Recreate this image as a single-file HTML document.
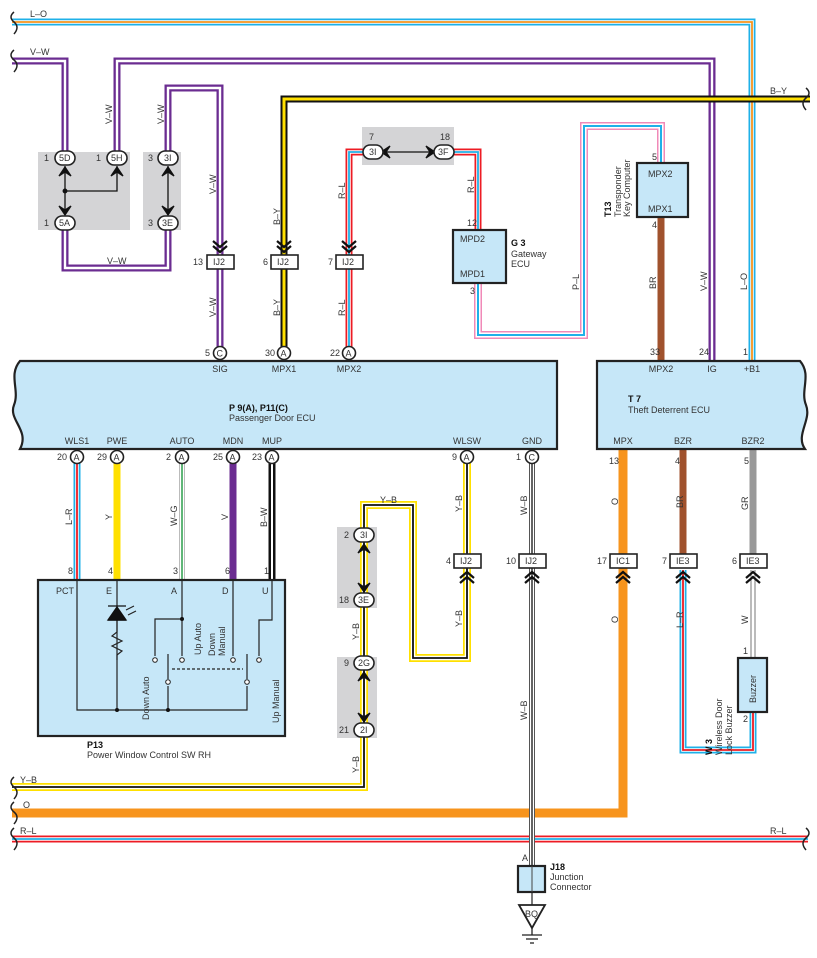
<!DOCTYPE html>
<html><head><meta charset="utf-8"><style>
html,body{margin:0;padding:0;background:#fff}
svg{display:block}
text{font-family:"Liberation Sans",sans-serif;font-size:9px;fill:#333}
.b{font-weight:bold;fill:#111}
.box{fill:#c6e7f8;stroke:#222;stroke-width:2.2}
.conn{fill:#fff;stroke:#222;stroke-width:1.6}
.gray{fill:#d4d4d6}
.ln{fill:none;stroke:#222;stroke-width:1.2}
.ch{fill:none;stroke:#111;stroke-width:2.2}
</style></head><body>
<svg width="817" height="958" viewBox="0 0 817 958" xmlns="http://www.w3.org/2000/svg">
<rect class="gray" x="38" y="152" width="92" height="78"/>
<rect class="gray" x="143" y="152" width="38" height="78"/>
<rect class="gray" x="362" y="127" width="92" height="38"/>
<rect class="gray" x="337" y="527" width="40" height="81"/>
<rect class="gray" x="337" y="657" width="40" height="81"/>

<g fill="none" stroke-linejoin="miter">
<polyline points="12,22 752,22 752,362" stroke="#1fb1e8" stroke-width="7"/>
<polyline points="12,22 752,22 752,362" stroke="#fff" stroke-width="3.5"/>
<polyline points="12,22 752,22 752,362" stroke="#f7941d" stroke-width="1.8"/>
<g stroke="#6b2c91" stroke-width="7">
<polyline points="12,61 65,61 65,158"/>
<polyline points="117,158 117,61 712,61 712,362"/>
<polyline points="168,158 168,88 220,88 220,352"/>
<polyline points="65,223 65,268 168,268 168,223"/>
</g>
<g stroke="#fff" stroke-width="2.4">
<polyline points="12,61 65,61 65,158"/>
<polyline points="117,158 117,61 712,61 712,362"/>
<polyline points="168,158 168,88 220,88 220,352"/>
<polyline points="65,223 65,268 168,268 168,223"/>
</g>
<polyline points="810,99 284,99 284,352" stroke="#111" stroke-width="7"/>
<polyline points="810,99 284,99 284,352" stroke="#ffe000" stroke-width="3"/>
<polyline points="373,152 349,152 349,352" stroke="#ed1c24" stroke-width="7"/>
<polyline points="444,152 478,152 478,230" stroke="#ed1c24" stroke-width="7"/>
<polyline points="373,152 349,152 349,352" stroke="#fff" stroke-width="3.5"/>
<polyline points="444,152 478,152 478,230" stroke="#fff" stroke-width="3.5"/>
<polyline points="373,152 349,152 349,352" stroke="#1fb1e8" stroke-width="1.8"/>
<polyline points="444,152 478,152 478,230" stroke="#1fb1e8" stroke-width="1.8"/>
<polyline points="478,283 478,335 584,335 584,126 661,126 661,163" stroke="#f08ab8" stroke-width="8"/>
<polyline points="478,283 478,335 584,335 584,126 661,126 661,163" stroke="#fff" stroke-width="5"/>
<polyline points="478,283 478,335 584,335 584,126 661,126 661,163" stroke="#1fb1e8" stroke-width="2"/>
<line x1="661" y1="217" x2="661" y2="362" stroke="#a0522d" stroke-width="7"/>
<line x1="77" y1="462" x2="77" y2="580" stroke="#1fb1e8" stroke-width="7"/>
<line x1="77" y1="462" x2="77" y2="580" stroke="#fff" stroke-width="3.5"/>
<line x1="77" y1="462" x2="77" y2="580" stroke="#ed1c24" stroke-width="1.8"/>
<line x1="117" y1="462" x2="117" y2="580" stroke="#ffe000" stroke-width="7"/>
<line x1="182" y1="462" x2="182" y2="580" stroke="#bbb" stroke-width="6"/>
<line x1="182" y1="462" x2="182" y2="580" stroke="#fff" stroke-width="4"/>
<line x1="182" y1="462" x2="182" y2="580" stroke="#2a9d4a" stroke-width="1.5"/>
<line x1="233" y1="462" x2="233" y2="580" stroke="#6b2c91" stroke-width="7"/>
<line x1="272" y1="462" x2="272" y2="580" stroke="#111" stroke-width="7"/>
<line x1="272" y1="462" x2="272" y2="580" stroke="#fff" stroke-width="2"/>
<polyline points="467,462 467,658 413,658 413,505 364,505 364,787 12,787" stroke="#ffe000" stroke-width="8"/>
<polyline points="467,462 467,658 413,658 413,505 364,505 364,787 12,787" stroke="#fff" stroke-width="4.5"/>
<polyline points="467,462 467,658 413,658 413,505 364,505 364,787 12,787" stroke="#111" stroke-width="1.8"/>
<polyline points="623,448 623,813 12,813" stroke="#f7941d" stroke-width="9"/>
<line x1="12" y1="839" x2="808" y2="839" stroke="#ed1c24" stroke-width="7"/>
<line x1="12" y1="839" x2="808" y2="839" stroke="#fff" stroke-width="3.5"/>
<line x1="12" y1="839" x2="808" y2="839" stroke="#1fb1e8" stroke-width="1.8"/>
<line x1="532" y1="462" x2="532" y2="866" stroke="#555" stroke-width="6"/>
<line x1="532" y1="462" x2="532" y2="866" stroke="#fff" stroke-width="4"/>
<line x1="532" y1="462" x2="532" y2="866" stroke="#111" stroke-width="1.3"/>
<line x1="683" y1="448" x2="683" y2="555" stroke="#a0522d" stroke-width="7"/>
<line x1="753" y1="448" x2="753" y2="555" stroke="#999" stroke-width="7"/>
<polyline points="683,570 683,750 753,750 753,712" stroke="#1fb1e8" stroke-width="7"/>
<polyline points="683,570 683,750 753,750 753,712" stroke="#fff" stroke-width="3.5"/>
<polyline points="683,570 683,750 753,750 753,712" stroke="#ed1c24" stroke-width="1.8"/>
<line x1="753" y1="570" x2="753" y2="658" stroke="#777" stroke-width="5"/>
<line x1="753" y1="570" x2="753" y2="658" stroke="#fff" stroke-width="3"/>
</g>

<g fill="none" stroke="#222" stroke-width="1.5">
<path d="M14,12 q-6,5 0,10 q6,5 0,12"/>
<path d="M14,50 q-6,5 0,10 q6,5 0,12"/>
<path d="M806,88 q6,5 0,10 q-6,5 0,12"/>
<path d="M14,777 q-6,5 0,10 q6,5 0,12"/>
<path d="M14,802 q-6,5 0,10 q6,5 0,12"/>
<path d="M14,828 q-6,5 0,10 q6,5 0,12"/>
<path d="M806,828 q6,5 0,10 q-6,5 0,12"/>
</g>

<g stroke="#111" stroke-width="1.3" fill="#111">
<line x1="65" y1="166" x2="65" y2="215"/><polyline fill="none" points="65,191 117,191 117,166"/>
<circle cx="65" cy="191" r="1.8"/>
<line x1="168" y1="166" x2="168" y2="215"/>
<line x1="364" y1="543" x2="364" y2="592"/>
<line x1="364" y1="671" x2="364" y2="722"/>
<line x1="381" y1="152" x2="436" y2="152"/>
<path d="M59,176 L65,167 L71,176 L65,172Z"/><path d="M111,176 L117,167 L123,176 L117,172Z"/>
<path d="M162,176 L168,167 L174,176 L168,172Z"/>
<path d="M59,206 L65,215 L71,206 L65,210Z"/><path d="M162,206 L168,215 L174,206 L168,210Z"/>
<path d="M358,553 L364,544 L370,553 L364,549Z"/><path d="M358,583 L364,592 L370,583 L364,587Z"/>
<path d="M358,681 L364,672 L370,681 L364,677Z"/><path d="M358,713 L364,722 L370,713 L364,717Z"/>
<path d="M390,146 L381,152 L390,158 L386,152Z"/><path d="M426,146 L435,152 L426,158 L430,152Z"/>
</g>
<g>
<rect class="conn" x="55" y="151" width="20" height="14" rx="7"/><text x="59" y="161">5D</text><text x="44" y="161">1</text>
<rect class="conn" x="107" y="151" width="20" height="14" rx="7"/><text x="111" y="161">5H</text><text x="96" y="161">1</text>
<rect class="conn" x="55" y="216" width="20" height="14" rx="7"/><text x="59" y="226">5A</text><text x="44" y="226">1</text>
<rect class="conn" x="158" y="151" width="20" height="14" rx="7"/><text x="164" y="161">3I</text><text x="148" y="161">3</text>
<rect class="conn" x="158" y="216" width="20" height="14" rx="7"/><text x="162" y="226">3E</text><text x="148" y="226">3</text>
<rect class="conn" x="363" y="145" width="20" height="14" rx="7"/><text x="369" y="155">3I</text><text x="369" y="140">7</text>
<rect class="conn" x="434" y="145" width="20" height="14" rx="7"/><text x="438" y="155">3F</text><text x="440" y="140">18</text>
<rect class="conn" x="354" y="528" width="20" height="14" rx="7"/><text x="360" y="538">3I</text><text x="344" y="538">2</text>
<rect class="conn" x="354" y="593" width="20" height="14" rx="7"/><text x="358" y="603">3E</text><text x="339" y="603">18</text>
<rect class="conn" x="354" y="656" width="20" height="14" rx="7"/><text x="358" y="666">2G</text><text x="344" y="666">9</text>
<rect class="conn" x="354" y="723" width="20" height="14" rx="7"/><text x="360" y="733">2I</text><text x="339" y="733">21</text>
</g>

<g class="ch">
<path d="M213,241 l7,6 l7,-6 M213,246 l7,6 l7,-6"/>
<path d="M277,241 l7,6 l7,-6 M277,246 l7,6 l7,-6"/>
<path d="M342,241 l7,6 l7,-6 M342,246 l7,6 l7,-6"/>
<path d="M460,578 l7,-6 l7,6 M460,583 l7,-6 l7,6"/>
<path d="M525,578 l7,-6 l7,6 M525,583 l7,-6 l7,6"/>
<path d="M616,578 l7,-6 l7,6 M616,583 l7,-6 l7,6"/>
<path d="M676,578 l7,-6 l7,6 M676,583 l7,-6 l7,6"/>
<path d="M746,578 l7,-6 l7,6 M746,583 l7,-6 l7,6"/>
</g>
<g>
<rect class="conn" x="207" y="255" width="27" height="14"/><text x="213" y="265">IJ2</text><text x="193" y="265">13</text>
<rect class="conn" x="271" y="255" width="27" height="14"/><text x="277" y="265">IJ2</text><text x="263" y="265">6</text>
<rect class="conn" x="336" y="255" width="27" height="14"/><text x="342" y="265">IJ2</text><text x="328" y="265">7</text>
<rect class="conn" x="454" y="554" width="27" height="14"/><text x="460" y="564">IJ2</text><text x="446" y="564">4</text>
<rect class="conn" x="519" y="554" width="27" height="14"/><text x="525" y="564">IJ2</text><text x="506" y="564">10</text>
<rect class="conn" x="610" y="554" width="27" height="14"/><text x="616" y="564">IC1</text><text x="597" y="564">17</text>
<rect class="conn" x="670" y="554" width="27" height="14"/><text x="676" y="564">IE3</text><text x="662" y="564">7</text>
<rect class="conn" x="740" y="554" width="27" height="14"/><text x="746" y="564">IE3</text><text x="732" y="564">6</text>
</g>

<path class="box" d="M20,361 L557,361 L557,449 L20,449 C30,430 8,420 14,405 C20,390 8,375 20,361Z"/>
<path class="box" d="M597,361 L800,361 C812,375 800,390 806,405 C812,420 795,435 805,449 L597,449Z"/>
<text x="229" y="411" class="b">P 9(A), P11(C)</text><text x="229" y="421">Passenger Door ECU</text>
<text x="628" y="402" class="b">T 7</text><text x="628" y="413">Theft Deterrent ECU</text>
<g text-anchor="middle">
<text x="220" y="372">SIG</text><text x="284" y="372">MPX1</text><text x="349" y="372">MPX2</text>
<text x="661" y="372">MPX2</text><text x="712" y="372">IG</text><text x="752" y="372">+B1</text>
<text x="77" y="444">WLS1</text><text x="117" y="444">PWE</text><text x="182" y="444">AUTO</text><text x="233" y="444">MDN</text><text x="272" y="444">MUP</text>
<text x="467" y="444">WLSW</text><text x="532" y="444">GND</text>
<text x="623" y="444">MPX</text><text x="683" y="444">BZR</text><text x="753" y="444">BZR2</text>
</g>
<g>
<circle class="conn" cx="220" cy="353" r="6.5"/><text x="216.5" y="356.5">C</text><text x="205" y="356">5</text>
<circle class="conn" cx="284" cy="353" r="6.5"/><text x="280.5" y="356.5">A</text><text x="265" y="356">30</text>
<circle class="conn" cx="349" cy="353" r="6.5"/><text x="345.5" y="356.5">A</text><text x="330" y="356">22</text>
<circle class="conn" cx="77" cy="457" r="6.5"/><text x="73.5" y="460.5">A</text><text x="57" y="460">20</text>
<circle class="conn" cx="117" cy="457" r="6.5"/><text x="113.5" y="460.5">A</text><text x="97" y="460">29</text>
<circle class="conn" cx="182" cy="457" r="6.5"/><text x="178.5" y="460.5">A</text><text x="166" y="460">2</text>
<circle class="conn" cx="233" cy="457" r="6.5"/><text x="229.5" y="460.5">A</text><text x="213" y="460">25</text>
<circle class="conn" cx="272" cy="457" r="6.5"/><text x="268.5" y="460.5">A</text><text x="252" y="460">23</text>
<circle class="conn" cx="467" cy="457" r="6.5"/><text x="463.5" y="460.5">A</text><text x="452" y="460">9</text>
<circle class="conn" cx="532" cy="457" r="6.5"/><text x="528.5" y="460.5">C</text><text x="516" y="460">1</text>
<text x="650" y="355">33</text><text x="699" y="355">24</text><text x="743" y="355">1</text>
<text x="609" y="464">13</text><text x="675" y="464">4</text><text x="744" y="464">5</text>
</g>

<rect class="box" x="453" y="230" width="53" height="53"/>
<text x="460" y="242">MPD2</text><text x="460" y="277">MPD1</text><text x="467" y="226">12</text><text x="470" y="294">3</text>
<text x="511" y="246" class="b">G 3</text><text x="511" y="257">Gateway</text><text x="511" y="267">ECU</text>
<rect class="box" x="637" y="163" width="51" height="54"/>
<text x="648" y="177">MPX2</text><text x="648" y="212">MPX1</text><text x="652" y="160">5</text><text x="652" y="228">4</text>
<g transform="rotate(-90)"><text x="-217" y="611" class="b">T13</text><text x="-217" y="621">Transponder</text><text x="-217" y="630">Key Computer</text></g>

<rect class="box" x="38" y="580" width="247" height="156"/>
<text x="56" y="594">PCT</text><text x="106" y="594">E</text><text x="171" y="594">A</text><text x="222" y="594">D</text><text x="262" y="594">U</text>
<text x="87" y="748" class="b">P13</text><text x="87" y="758">Power Window Control SW RH</text>
<g class="ln">
<polyline points="77,580 77,710 247,710 247,686"/>
<line x1="117" y1="580" x2="117" y2="710"/>
<polyline points="117,620 117,632 112,636 122,641 112,646 122,651 117,655 117,660"/>
<polyline points="182,580 182,656"/>
<polyline points="182,619 155,619 155,656"/>
<line x1="233" y1="580" x2="233" y2="656"/>
<polyline points="272,580 272,620 259,620 259,656"/>
<line x1="168" y1="654" x2="168" y2="679"/><line x1="168" y1="686" x2="168" y2="710"/>
<line x1="247" y1="654" x2="247" y2="679"/>
<line x1="172" y1="669" x2="243" y2="669" stroke-dasharray="3,2"/>
<path d="M126,610 l8,-4 M128,615 l8,-4"/>
</g>
<path d="M108,620 L126,620 L117,607Z M108,606 L126,606" fill="#111" stroke="#111" stroke-width="1.3"/>
<path d="M108,620 L126,620" stroke="#111" stroke-width="1.5"/>
<g fill="#111"><circle cx="117" cy="710" r="2"/><circle cx="168" cy="710" r="2"/><circle cx="182" cy="619" r="2"/></g>
<g fill="#fff" stroke="#222" stroke-width="1">
<circle cx="155" cy="660" r="2.3"/><circle cx="182" cy="660" r="2.3"/><circle cx="233" cy="660" r="2.3"/><circle cx="259" cy="660" r="2.3"/>
<circle cx="168" cy="682" r="2.3"/><circle cx="247" cy="682" r="2.3"/>
</g>
<g transform="rotate(-90)">
<text x="-720" y="149">Down Auto</text>
<text x="-655" y="201">Up Auto</text>
<text x="-656" y="215">Down</text><text x="-656" y="225">Manual</text>
<text x="-723" y="279">Up Manual</text>
</g>
<text x="68" y="574">8</text><text x="108" y="574">4</text><text x="173" y="574">3</text><text x="225" y="574">6</text><text x="264" y="574">1</text>

<rect class="box" x="738" y="658" width="29" height="54"/>
<g transform="rotate(-90)"><text x="-703" y="756">Buzzer</text>
<text x="-755" y="712" class="b">W 3</text><text x="-755" y="722">Wireless Door</text><text x="-755" y="732">Lock Buzzer</text></g>
<text x="743" y="654">1</text><text x="743" y="722">2</text>

<rect class="box" x="518" y="866" width="27" height="26"/>
<line x1="532" y1="866" x2="532" y2="892" stroke="#444" stroke-width="1"/>
<line x1="532" y1="892" x2="532" y2="905" stroke="#222" stroke-width="1.2"/>
<text x="522" y="861">A</text>
<text x="550" y="870" class="b">J18</text><text x="550" y="880">Junction</text><text x="550" y="890">Connector</text>
<path d="M519,905 L545,905 L532,928Z" fill="#fff" stroke="#222" stroke-width="1.8"/>
<text x="525" y="917" font-size="8">BQ</text>
<g stroke="#222" stroke-width="1.3"><line x1="532" y1="928" x2="532" y2="935"/><line x1="522" y1="935" x2="542" y2="935"/><line x1="526" y1="939" x2="538" y2="939"/><line x1="530" y1="943" x2="534" y2="943"/></g>

<text x="30" y="17">L–O</text><text x="30" y="55">V–W</text><text x="770" y="94">B–Y</text>
<text x="107" y="264">V–W</text><text x="380" y="503">Y–B</text>
<text x="20" y="783">Y–B</text><text x="23" y="808">O</text><text x="20" y="834">R–L</text><text x="770" y="834">R–L</text>
<g transform="rotate(-90)">
<text x="-124" y="112">V–W</text><text x="-124" y="164">V–W</text><text x="-194" y="216">V–W</text><text x="-317" y="216">V–W</text>
<text x="-225" y="280">B–Y</text><text x="-316" y="280">B–Y</text>
<text x="-199" y="345">R–L</text><text x="-316" y="345">R–L</text><text x="-193" y="474">R–L</text>
<text x="-290" y="579">P–L</text><text x="-289" y="656">BR</text><text x="-291" y="707">V–W</text><text x="-290" y="747">L–O</text>
<text x="-525" y="72">L–R</text><text x="-520" y="112">Y</text><text x="-526" y="177">W–G</text><text x="-520" y="228">V</text><text x="-527" y="267">B–W</text>
<text x="-512" y="462">Y–B</text><text x="-627" y="462">Y–B</text><text x="-515" y="527">W–B</text><text x="-720" y="527">W–B</text>
<text x="-640" y="359">Y–B</text><text x="-773" y="359">Y–B</text>
<text x="-505" y="618">O</text><text x="-623" y="618">O</text>
<text x="-508" y="683">BR</text><text x="-628" y="683">L–R</text>
<text x="-510" y="748">GR</text><text x="-624" y="748">W</text>
</g>
</svg>
</body></html>
